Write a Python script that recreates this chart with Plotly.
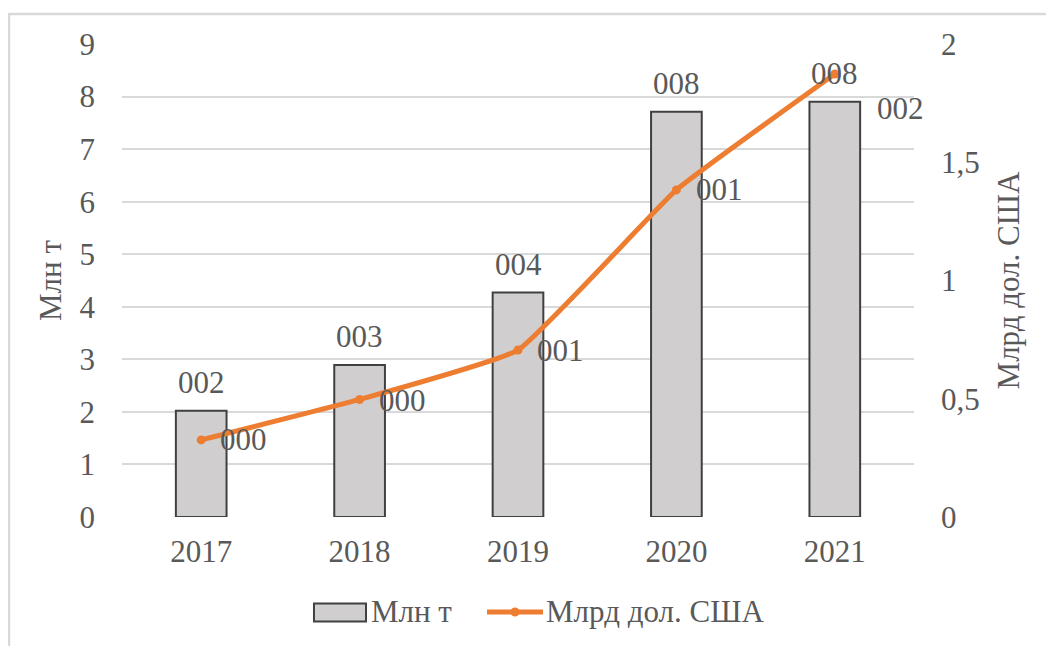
import plotly.graph_objects as go

years = ["2017", "2018", "2019", "2020", "2021"]
volume_mt = [2.02, 2.89, 4.27, 7.71, 7.90]          # Млн т (left axis)
value_busd = [0.326, 0.497, 0.706, 1.383, 1.873]    # Млрд дол. США (right axis)
bar_labels = ["002", "003", "004", "008", "008"]
line_labels = ["000", "000", "001", "001", "002"]
left_ticks = [0, 1, 2, 3, 4, 5, 6, 7, 8, 9]
right_ticks = [0, 0.5, 1, 1.5, 2]
right_tick_text = ["0", "0,5", "1", "1,5", "2"]

# label placement offsets (px), style only
line_label_dx = [20, 20, 20, 21, 43]
line_label_dy = [0, -1, 0, 0, -34]

FONT = "Liberation Serif, Times New Roman, serif"
TXT = "#595959"
FS = 31
ORANGE = "#ED7D31"

fig = go.Figure()
fig.add_trace(go.Bar(
    x=years, y=volume_mt, name="Млн т", width=0.32,
    marker=dict(color="#D0CECE", line=dict(color="#404040", width=2)),
    yaxis="y", showlegend=False,
))
fig.add_trace(go.Scatter(
    x=years, y=value_busd, name="Млрд дол. США", mode="lines+markers",
    line=dict(color=ORANGE, width=5, shape="spline", smoothing=0.35),
    marker=dict(color=ORANGE, size=9),
    yaxis="y2", showlegend=False,
))

annotations = []
for i, (yv, t) in enumerate(zip(volume_mt, bar_labels)):
    annotations.append(dict(x=i, y=yv, xref="x", yref="y", text=t, showarrow=False,
                            yanchor="bottom", xanchor="center", yshift=9,
                            font=dict(family=FONT, size=FS, color=TXT)))
for i, (yv, t, dx, dy) in enumerate(zip(value_busd, line_labels, line_label_dx, line_label_dy)):
    annotations.append(dict(x=i, y=yv, xref="x", yref="y2", text=t, showarrow=False,
                            yanchor="middle", xanchor="left", xshift=dx - 3, yshift=dy,
                            font=dict(family=FONT, size=FS, color=TXT)))

# legend (manual, to match reference symbol sizes)
annotations.append(dict(x=0.3118, y=-0.2008, xref="paper", yref="paper", text="Млн т",
                        showarrow=False, xanchor="left", yanchor="middle",
                        font=dict(family=FONT, size=FS, color=TXT)))
annotations.append(dict(x=0.5330, y=-0.2008, xref="paper", yref="paper", text="Млрд дол. США",
                        showarrow=False, xanchor="left", yanchor="middle",
                        font=dict(family=FONT, size=FS, color=TXT)))

shapes = [
    # outer frame
    dict(type="rect", xref="paper", yref="paper", x0=-0.1427, x1=1.25, y0=-0.35, y1=1.0634,
         line=dict(color="#D9D9D9", width=2.5), fillcolor="rgba(0,0,0,0)", layer="below"),
    # legend bar symbol
    dict(type="rect", xref="paper", yref="paper", x0=0.2424, x1=0.3081, y0=-0.2211, y1=-0.1827,
         line=dict(color="#404040", width=2), fillcolor="#D0CECE"),
    # legend line symbol
    dict(type="line", xref="paper", yref="paper", x0=0.4609, x1=0.5316, y0=-0.2008, y1=-0.2008,
         line=dict(color=ORANGE, width=5)),
    dict(type="circle", xref="paper", yref="paper", x0=0.4962 - 0.0057, x1=0.4962 + 0.0057,
         y0=-0.2008 - 0.0095, y1=-0.2008 + 0.0095, line=dict(color=ORANGE, width=0), fillcolor=ORANGE),
]

# page body has an 8px default margin, so the figure is 8px smaller and margins shifted
fig.update_layout(
    width=1046, height=638,
    margin=dict(l=114, r=140, t=36, b=129, autoexpand=False),
    paper_bgcolor="white", plot_bgcolor="white",
    font=dict(family=FONT, size=FS, color=TXT),
    xaxis=dict(type="category", range=[-0.5, 4.5], showgrid=False, zeroline=False,
               showline=False, ticks="", ticklabelstandoff=13, automargin=False,
               tickfont=dict(family=FONT, size=FS, color=TXT)),
    yaxis=dict(range=[0, 9], tickvals=left_ticks, showgrid=True, gridcolor="#D9D9D9",
               gridwidth=1.5, zeroline=False, showline=False, ticks="", automargin=False,
               ticklabelstandoff=26, tickfont=dict(family=FONT, size=FS, color=TXT),
               title=dict(text="Млн т", standoff=8, font=dict(family=FONT, size=FS, color=TXT))),
    yaxis2=dict(range=[0, 2], tickvals=right_ticks, ticktext=right_tick_text, overlaying="y",
                side="right", showgrid=False, zeroline=False, showline=False, ticks="",
                automargin=False,
                ticklabelstandoff=26, tickfont=dict(family=FONT, size=FS, color=TXT),
                title=dict(text="Млрд дол. США", standoff=18,
                           font=dict(family=FONT, size=FS, color=TXT))),
    annotations=annotations,
    shapes=shapes,
    showlegend=False,
)

fig.write_html("out.html")
